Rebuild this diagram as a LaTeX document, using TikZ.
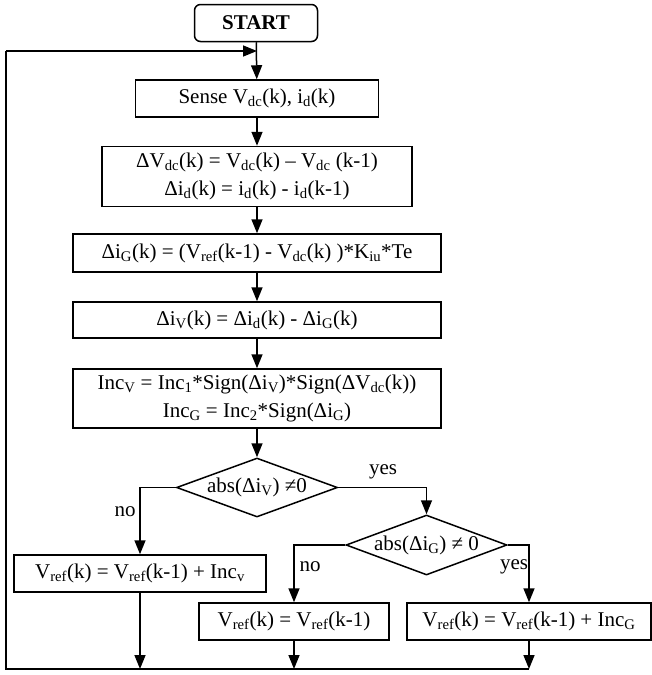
\documentclass[tikz,border=0pt]{standalone}
\usepackage{fontspec}
\setmainfont{Liberation Serif}
\usetikzlibrary{shapes.geometric,arrows.meta}
\newcommand{\sbs}[1]{\textsubscript{#1}}
\tikzset{
  box/.style={draw, line width=1.5pt, inner sep=0pt, align=center, font=\fontsize{21}{28}\selectfont},
  dia/.style={draw, line width=1.5pt, shape=diamond, inner sep=0pt, font=\fontsize{21}{25}\selectfont},
  lab/.style={font=\fontsize{21}{25}\selectfont, inner sep=0pt},
  arr/.style={line width=1.5pt, -{Triangle[length=14pt,width=11pt]}},
  ln/.style={line width=1.5pt}
}
\begin{document}
\begin{tikzpicture}[x=1pt,y=-1pt]
\useasboundingbox (0,0) rectangle (652,675);
\node[box, rounded corners=6pt, minimum width=123pt, minimum height=37pt, font=\fontsize{21}{25}\selectfont\bfseries] (start) at (256,23) {START};
\node[box, minimum width=243pt, minimum height=37pt] (sense) at (257,98.5) {Sense V\sbs{dc}(k), i\sbs{d}(k)};
\node[box, minimum width=310pt, minimum height=60pt] (b2) at (257,176.5) {ΔV\sbs{dc}(k) = V\sbs{dc}(k) – V\sbs{dc} (k-1)\\Δi\sbs{d}(k) = i\sbs{d}(k) - i\sbs{d}(k-1)};
\node[box, minimum width=368pt, minimum height=38pt] (b3) at (257,253) {Δi\sbs{G}(k) = (V\sbs{ref}(k-1) - V\sbs{dc}(k) )*K\sbs{iu}*Te};
\node[box, minimum width=368pt, minimum height=36pt] (b4) at (257,320) {Δi\sbs{V}(k) = Δi\sbs{d}(k) - Δi\sbs{G}(k)};
\node[box, minimum width=368pt, minimum height=59pt] (b5) at (257,398.5) {Inc\sbs{V} = Inc\sbs{1}*Sign(Δi\sbs{V})*Sign(ΔV\sbs{dc}(k))\\Inc\sbs{G} = Inc\sbs{2}*Sign(Δi\sbs{G})};
\node[dia, minimum width=161pt, minimum height=59pt, aspect=2.73] (d1) at (257,487.5) {abs(Δi\sbs{V}) ≠0};
\node[dia, minimum width=161pt, minimum height=60pt, aspect=2.68] (d2) at (426.5,545) {abs(Δi\sbs{G}) ≠ 0};
\node[box, minimum width=252pt, minimum height=37pt] (b6) at (140,573.5) {V\sbs{ref}(k) = V\sbs{ref}(k-1) + Inc\sbs{v}};
\node[box, minimum width=190pt, minimum height=37pt] (b7) at (294,621.5) {V\sbs{ref}(k) = V\sbs{ref}(k-1)};
\node[box, minimum width=244pt, minimum height=37pt] (b8) at (529,621.5) {V\sbs{ref}(k) = V\sbs{ref}(k-1) + Inc\sbs{G}};
\coordinate (lt) at (6,51);
\coordinate (lb) at (6,669);
\coordinate (jt) at (257,51);
\coordinate (rb) at (529,669);
% main column
\draw[arr] (start) -- (sense);
\draw[arr] (sense) -- (b2);
\draw[arr] (b2) -- (b3);
\draw[arr] (b3) -- (b4);
\draw[arr] (b4) -- (b5);
\draw[arr] (b5) -- (d1);
% branches
\draw[arr] (d1.west) -| (b6.north);
\draw[arr] (d1.east) -| (d2.north);
\draw[arr] (d2.west) -| (b7.north);
\draw[arr] (d2.east) -| (b8.north);
% returns
\draw[arr] (b6.south) -- (b6.south |- lb);
\draw[arr] (b7.south) -- (b7.south |- lb);
\draw[arr] (b8.south) -- (b8.south |- lb);
\draw[ln] (rb) -- (lb) -- (lt);
\draw[arr] (lt) -- (jt);
% labels
\node[lab] (no1) at (125,512) {no};
\node[lab] (yes1) at (383,472) {yes};
\node[lab] (no2) at (310,567) {no};
\node[lab] (yes2) at (514,567) {yes};
\end{tikzpicture}
\end{document}
